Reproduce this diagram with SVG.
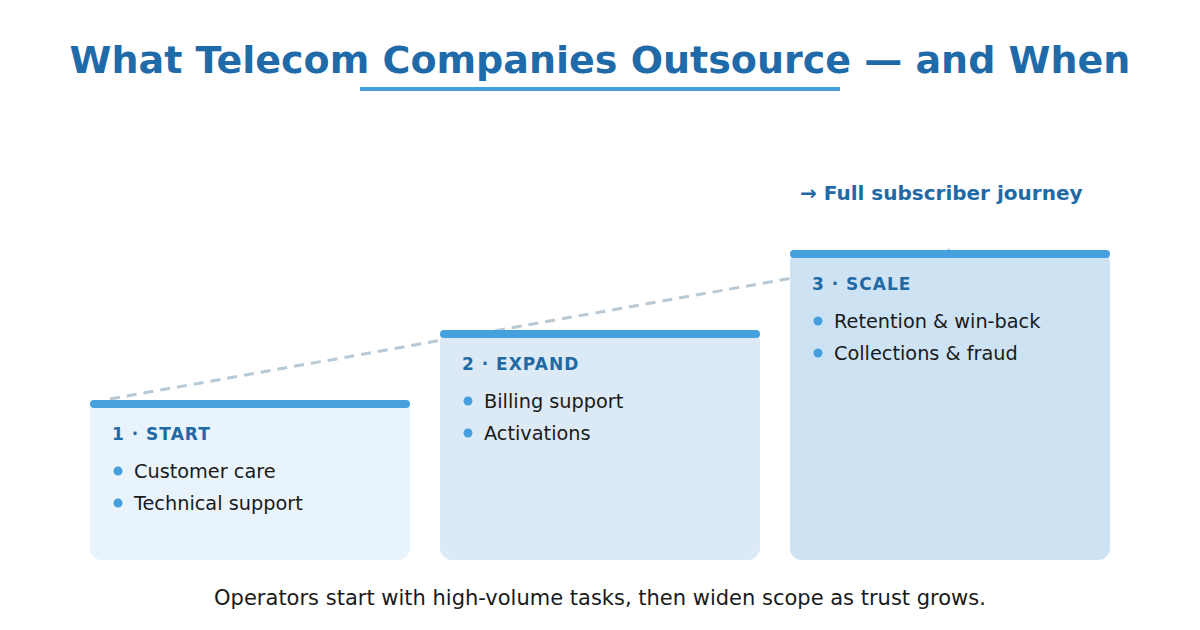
<svg xmlns="http://www.w3.org/2000/svg" width="1200" height="630" viewBox="0 0 1200 630">
<style>
text{font-family:"DejaVu Sans","Liberation Sans",sans-serif}
.title{font-size:38px;font-weight:bold;fill:#1f6aa8}
.head{font-size:17px;font-weight:bold;fill:#1f6aa5;letter-spacing:1px}
.item{font-size:19.3px;fill:#1a1a1a}
.bar{fill:#46a0de}
.dot{fill:#46a0de}
.foot{font-size:21px;fill:#1a1a1a}
.note{font-size:20px;font-weight:bold;fill:#1f6aa5}
</style>
<rect width="1200" height="630" fill="#ffffff"/>
<text class="title" x="600" y="73" text-anchor="middle">What Telecom Companies Outsource — and When</text>
<rect x="360" y="87" width="480" height="4" fill="#46a0de"/>
<g id="connectors">
<line x1="110" y1="399" x2="950" y2="250" stroke="#b8c9d6" stroke-width="3" stroke-dasharray="10 7"/>
</g>
<g id="node-start">
<rect x="90" y="400" width="320" height="160" rx="12" fill="#e8f3fb"/>
<rect class="bar" x="90" y="400" width="320" height="8" rx="4"/>
<text class="head" x="112" y="440">1 · START</text>
<circle class="dot" cx="118" cy="471" r="4.5"/>
<text class="item" x="134" y="478">Customer care</text>
<circle class="dot" cx="118" cy="503" r="4.5"/>
<text class="item" x="134" y="510">Technical support</text>
</g>
<g id="node-expand">
<rect x="440" y="330" width="320" height="230" rx="12" fill="#dceaf6"/>
<rect class="bar" x="440" y="330" width="320" height="8" rx="4"/>
<text class="head" x="462" y="370">2 · EXPAND</text>
<circle class="dot" cx="468" cy="401" r="4.5"/>
<text class="item" x="484" y="408">Billing support</text>
<circle class="dot" cx="468" cy="433" r="4.5"/>
<text class="item" x="484" y="440">Activations</text>
</g>
<g id="node-scale">
<rect x="790" y="250" width="320" height="310" rx="12" fill="#cde2f3"/>
<rect class="bar" x="790" y="250" width="320" height="8" rx="4"/>
<text class="head" x="812" y="290">3 · SCALE</text>
<circle class="dot" cx="818" cy="321" r="4.5"/>
<text class="item" x="834" y="328">Retention &amp; win-back</text>
<circle class="dot" cx="818" cy="353" r="4.5"/>
<text class="item" x="834" y="360">Collections &amp; fraud</text>
</g>
<text class="note" x="800" y="200">→ Full subscriber journey</text>
<text class="foot" x="600" y="605" text-anchor="middle">Operators start with high-volume tasks, then widen scope as trust grows.</text>
</svg>
